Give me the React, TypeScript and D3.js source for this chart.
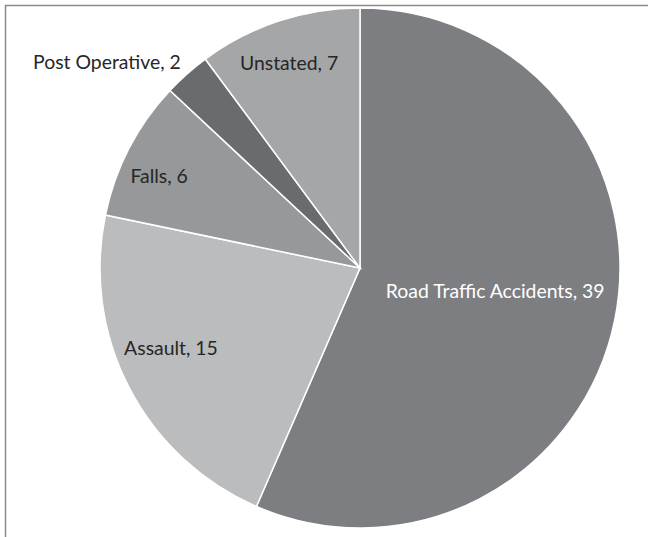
import React from "react";
import * as d3 from "d3";

const categories = ["Road Traffic Accidents", "Assault", "Falls", "Post Operative", "Unstated"];
const values = [39, 15, 6, 2, 7];
const colors = ["#7d7e81", "#bbbcbe", "#97989a", "#6a6b6e", "#a5a6a8"];
const textColors = ["#ffffff", "#262626", "#262626", "#262626", "#262626"];
// label placement, as fraction of radius and angle offset (degrees) from slice middle
const labelRadiusFrac = [0.527, 0.788, 0.851, 1.257, 0.835];
const labelAngleOffset = [-2.4, 4.7, -2.6, -9, -0.8];

export default function App() {
  const W = 648, H = 537;
  const cx = 360, cy = 268, r = 260;
  const pie = d3.pie<number>().sort(null).value((d) => d);
  const arcs = pie(values);
  const arc = d3.arc<d3.PieArcDatum<number>>().innerRadius(0).outerRadius(r);
  return (
    <svg width={W} height={H} style={{ position: "absolute", left: 0, top: 0 }}>
      <rect x={0} y={0} width={W} height={H} fill="#fff" />
      <line x1={5} y1={5.5} x2={W} y2={5.5} stroke="#8a8a8a" strokeWidth={1.5} />
      <line x1={5.5} y1={5} x2={5.5} y2={H} stroke="#8a8a8a" strokeWidth={1.5} />
      <g transform={`translate(${cx},${cy})`}>
        {arcs.map((a, i) => (
          <path key={i} d={arc(a) || ""} fill={colors[i]} stroke="#fff" strokeWidth={1.5} />
        ))}
        {arcs.map((a, i) => {
          const mid = (a.startAngle + a.endAngle) / 2 + (labelAngleOffset[i] * Math.PI) / 180;
          const rr = r * labelRadiusFrac[i];
          const x = Math.sin(mid) * rr;
          const y = -Math.cos(mid) * rr;
          return (
            <text
              key={"t" + i}
              x={x}
              y={y}
              textAnchor="middle"
              dominantBaseline="central"
              fill={textColors[i]}
              style={{ fontFamily: "Lato, 'Open Sans', sans-serif", fontSize: 19.4 }}
            >
              {`${categories[i]}, ${values[i]}`}
            </text>
          );
        })}
      </g>
    </svg>
  );
}
